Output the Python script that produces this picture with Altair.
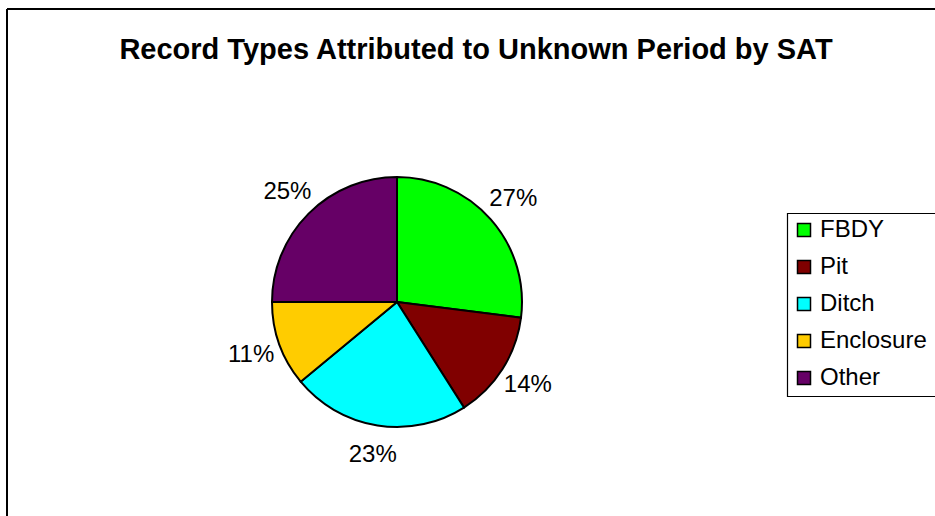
import altair as alt
import pandas as pd

# Record types and their share of records with an unknown period
categories = ["FBDY", "Pit", "Ditch", "Enclosure", "Other"]
percentages = [27, 14, 23, 11, 25]
colors = ["#00FF00", "#800000", "#00FFFF", "#FFCC00", "#660066"]
title_text = "Record Types Attributed to Unknown Period by SAT"

df = pd.DataFrame({
    "type": categories,
    "pct": percentages,
    "order": list(range(len(categories))),
    "label": [f"{p}%" for p in percentages],
})

W, H = 935, 516
cx, cy, r = 397, 302, 125
FONT = "Liberation Sans"

color_scale = alt.Scale(domain=categories, range=colors)

base = alt.Chart(df).encode(
    theta=alt.Theta("pct:Q", stack=True),
    order=alt.Order("order:Q"),
)

pie = base.mark_arc(stroke="black", strokeWidth=2, radius=r).encode(
    x=alt.value(cx),
    y=alt.value(cy),
    color=alt.Color(
        "type:N",
        scale=color_scale,
        sort=categories,
        legend=alt.Legend(
            title=None,
            orient="none",
            legendX=787,
            legendY=213,
            symbolType="square",
            symbolSize=169,
            symbolStrokeColor="black",
            symbolStrokeWidth=1.5,
            labelFont=FONT,
            labelFontSize=24,
            labelColor="black",
            labelOffset=4,
            rowPadding=13,
            padding=5,
        ),
    ),
)

labels = base.mark_text(
    radius=155, font=FONT, fontSize=24, color="black"
).encode(
    x=alt.value(cx),
    y=alt.value(cy),
    text="label:N",
)

title_df = pd.DataFrame({"t": [title_text]})
title = alt.Chart(title_df).mark_text(
    font=FONT, fontSize=29, fontWeight="bold", color="black", align="center", baseline="middle"
).encode(x=alt.value(476), y=alt.value(50), text="t:N")

frame_df = pd.DataFrame({"k": [0]})
left_edge = alt.Chart(frame_df).mark_rule(color="black", strokeWidth=2).encode(
    x=alt.value(7), y=alt.value(9), y2=alt.value(H)
)
top_edge = alt.Chart(frame_df).mark_rule(color="black", strokeWidth=2).encode(
    x=alt.value(7), x2=alt.value(W), y=alt.value(9)
)
# legend frame, running on past the right edge of the chart area
legend_box = alt.Chart(frame_df).mark_rect(
    fill="white", stroke="black", strokeWidth=1.2
).encode(
    x=alt.value(787.5), x2=alt.value(W + 20), y=alt.value(213.5), y2=alt.value(396.5)
)

chart = alt.layer(legend_box, pie, labels, title, left_edge, top_edge).properties(
    width=W, height=H, padding=0, autosize=alt.AutoSizeParams(type="none"),
    background="white",
).configure_view(stroke=None)

chart.save("out.html", embed_options={"renderer": "svg", "actions": False})
